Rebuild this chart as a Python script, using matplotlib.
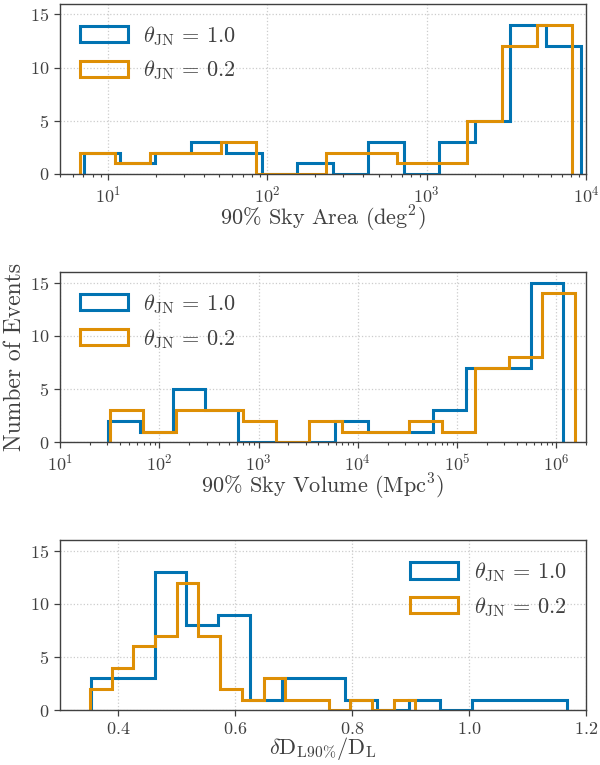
import matplotlib
matplotlib.use("Agg")
import matplotlib.pyplot as plt
import numpy as np

# Histogram data: first/last bin edge + counts per bin
area_blue_range = (10**0.850, 10**3.969)
area_blue_counts = [2, 1, 2, 3, 2, 0, 1, 0, 3, 0, 3, 5, 14, 12]
area_orange_range = (10**0.825, 10**3.914)
area_orange_counts = [2, 1, 2, 2, 3, 0, 0, 2, 2, 1, 1, 5, 12, 14]

vol_blue_range = (10**1.48, 10**6.07)
vol_blue_counts = [2, 1, 5, 3, 0, 0, 0, 2, 1, 1, 3, 7, 7, 15]
vol_orange_range = (10**1.50, 10**6.19)
vol_orange_counts = [3, 1, 3, 3, 2, 0, 2, 1, 1, 2, 1, 7, 8, 14]

dl_blue_range = (0.353, 1.168)
dl_blue_counts = [3, 3, 13, 8, 9, 1, 3, 3, 1, 0, 1, 0, 1, 1, 1]
dl_orange_range = (0.351, 0.908)
dl_orange_counts = [2, 4, 6, 7, 12, 7, 2, 1, 3, 1, 1, 0, 1, 0, 1]

labels = [r'$\theta_{\rm JN}\, = \,1.0$', r'$\theta_{\rm JN}\, = \,0.2$']
colors = ['#0173b2', '#de8f05']

plt.rcParams['font.family'] = 'serif'
plt.rcParams['font.serif'] = ['cmr10']
plt.rcParams['mathtext.fontset'] = 'cm'
plt.rcParams['axes.formatter.use_mathtext'] = True
plt.rcParams['axes.unicode_minus'] = False
for k in ['text.color', 'axes.labelcolor', 'xtick.color', 'ytick.color', 'axes.edgecolor']:
    plt.rcParams[k] = '0.25'


def edges_for(rng, n, log):
    if log:
        return np.logspace(np.log10(rng[0]), np.log10(rng[1]), n + 1)
    return np.linspace(rng[0], rng[1], n + 1)


def draw_hist(ax, rng, counts, color, label, log):
    edges = edges_for(rng, len(counts), log)
    if log:
        centers = np.sqrt(edges[:-1] * edges[1:])
    else:
        centers = 0.5 * (edges[:-1] + edges[1:])
    ax.hist(centers, bins=edges, weights=counts, histtype='step',
            lw=2.2, color=color, label=label)


fig, axes = plt.subplots(3, 1, figsize=(6, 7.65), dpi=100, sharey=True)
fig.subplots_adjust(left=0.1, right=0.977, top=0.995, bottom=0.0715, hspace=0.576)
ax1, ax2, ax3 = axes

draw_hist(ax1, area_blue_range, area_blue_counts, colors[0], labels[0], True)
draw_hist(ax1, area_orange_range, area_orange_counts, colors[1], labels[1], True)
ax1.set_xscale('log')
ax1.set_xlim(5, 1e4)
ax1.set_xlabel(r'90% Sky Area (deg$^2$)', fontsize=16, labelpad=-1)

draw_hist(ax2, vol_blue_range, vol_blue_counts, colors[0], labels[0], True)
draw_hist(ax2, vol_orange_range, vol_orange_counts, colors[1], labels[1], True)
ax2.set_xscale('log')
ax2.set_xlim(10, 2e6)
ax2.set_xlabel(r'90% Sky Volume (Mpc$^3$)', fontsize=16, labelpad=-1)
ax2.set_ylabel('Number of Events', fontsize=17, labelpad=3)

draw_hist(ax3, dl_blue_range, dl_blue_counts, colors[0], labels[0], False)
draw_hist(ax3, dl_orange_range, dl_orange_counts, colors[1], labels[1], False)
ax3.set_xlim(0.3, 1.2)
ax3.set_xticks([0.4, 0.6, 0.8, 1.0, 1.2])
ax3.set_xlabel(r'$\delta\mathrm{D}_{\mathrm{L90\%}}/\mathrm{D}_{\mathrm{L}}$', fontsize=16, labelpad=-1)

ax1.set_ylim(0, 16)
ax1.set_yticks([0, 5, 10, 15])

for ax in axes:
    ax.grid(True, which='major', linestyle=':', color='0.8', lw=0.9)
    ax.set_axisbelow(True)
    ax.tick_params(which='major', labelsize=13, length=4, width=0.9)
    ax.tick_params(which='minor', length=2.5, width=0.8)
    for s in ax.spines.values():
        s.set_linewidth(1.0)

leg_kw = dict(fontsize=16, frameon=False, handlelength=2.15, handleheight=0.75,
              labelspacing=0.5, handletextpad=0.7)
ax1.legend(loc='upper left', **leg_kw)
ax2.legend(loc='upper left', **leg_kw)
ax3.legend(loc='upper right', **leg_kw)

fig.savefig('out.png', dpi=100)
